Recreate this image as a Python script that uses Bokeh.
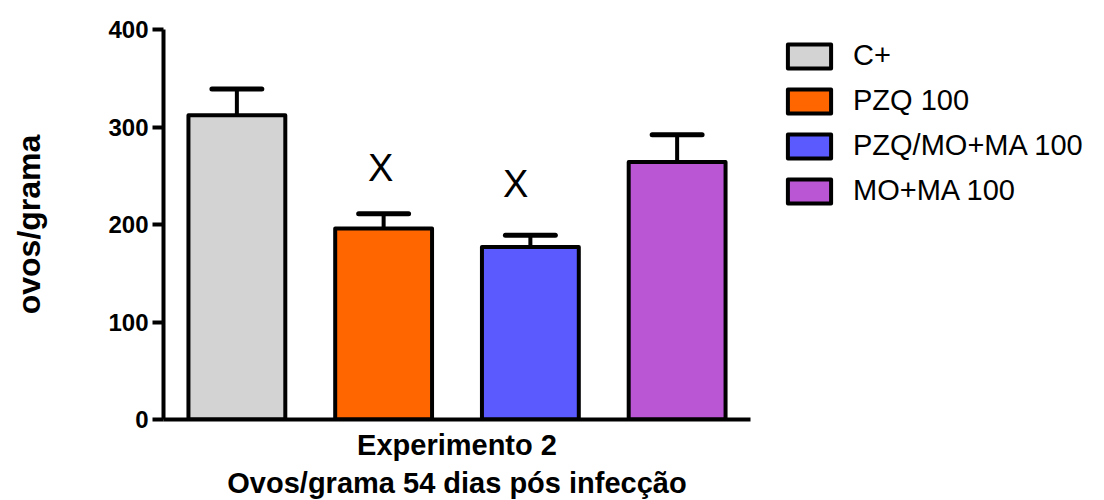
from bokeh.plotting import figure
from bokeh.models import Range1d, FixedTicker, Legend, LegendItem, ColumnDataSource
from bokeh.core.properties import value
from bokeh.embed import file_html
from bokeh.resources import INLINE

groups = ["C+", "PZQ 100", "PZQ/MO+MA 100", "MO+MA 100"]
means = [312, 196, 177, 264]
errors = [27, 15, 12, 28]
colors = ["#D3D3D3", "#FF6600", "#5A5AFF", "#BA55D3"]
y_ticks = [0, 100, 200, 300, 400]
marks = ["X", "X"]
mark_x = [1.48, 2.4]
mark_y = [258, 242]

FONT = "Liberation Sans"

p = figure(frame_width=587, frame_height=390, output_backend="svg", toolbar_location=None,
           x_range=Range1d(0, 4), y_range=Range1d(0, 400),
           min_border_left=163, min_border_right=330, min_border_top=29, min_border_bottom=71)
p.outline_line_color = None
p.grid.visible = False
p.background_fill_color = "white"

xs = [i + 0.5 for i in range(len(groups))]
tops = [m + e for m, e in zip(means, errors)]
src = ColumnDataSource(dict(x=xs, top=means, color=colors, label=groups,
                            etop=tops, cl=[x - 0.17 for x in xs], cr=[x + 0.17 for x in xs]))

# error bars (drawn first, then bars on top)
p.segment(x0="x", y0="top", x1="x", y1="etop", source=src, line_color="black", line_width=4)
p.segment(x0="cl", y0="etop", x1="cr", y1="etop", source=src, line_color="black", line_width=5,
          line_cap="round")
bars = p.vbar(x="x", top="top", bottom=0, width=0.66, source=src, fill_color="color",
              line_color="black", line_width=4, line_join="round")

p.text(x=mark_x, y=mark_y, text=marks, text_font=value(FONT), text_font_size="38px",
       text_align="center", text_baseline="middle", text_color="black")

items = [LegendItem(label=g, renderers=[bars], index=i) for i, g in enumerate(groups)]
legend = Legend(items=items, location=(32, 212), padding=0, margin=0,
                border_line_color=None, background_fill_alpha=0,
                glyph_width=54, glyph_height=30, label_height=30, spacing=12,
                label_standoff=17, label_text_font=FONT, label_text_font_size="29px",
                label_text_baseline="middle", label_text_color="black")
p.add_layout(legend, "right")

ya = p.yaxis[0]
ya.ticker = FixedTicker(ticks=y_ticks)
ya.minor_tick_line_color = None
ya.axis_line_width = 4
ya.major_tick_line_width = 4
ya.major_tick_out = 11
ya.major_tick_in = 0
ya.major_label_text_font = FONT
ya.major_label_text_font_style = "bold"
ya.major_label_text_font_size = "24px"
ya.major_label_text_color = "black"
ya.major_label_standoff = 4
ya.axis_label = "ovos/grama"
ya.axis_label_text_font = FONT
ya.axis_label_text_font_style = "bold"
ya.axis_label_text_font_size = "32px"
ya.axis_label_text_color = "black"
ya.axis_label_standoff = 58

xa = p.xaxis[0]
xa.ticker = FixedTicker(ticks=[])
xa.minor_tick_line_color = None
xa.major_tick_line_color = None
xa.major_label_text_font_size = "0px"
xa.axis_line_width = 4
xa.axis_label = "Experimento 2\nOvos/grama 54 dias pós infecção"
xa.axis_label_text_font = FONT
xa.axis_label_text_font_style = "bold"
xa.axis_label_text_font_size = "29px"
xa.axis_label_text_color = "black"
xa.axis_label_standoff = 9

open("out.html", "w").write(file_html(p, INLINE))
